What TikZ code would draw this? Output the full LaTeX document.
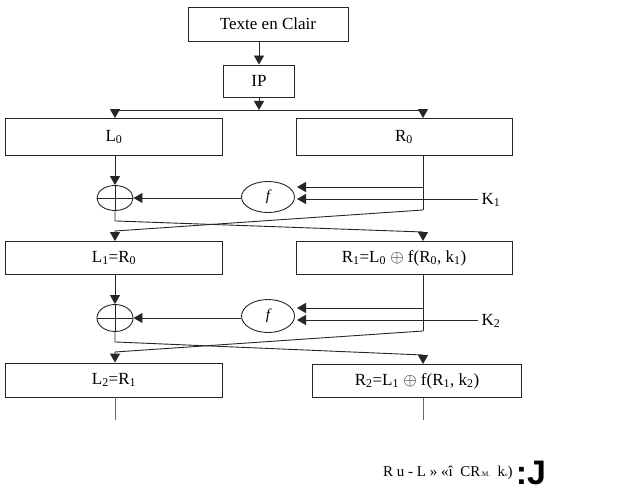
\documentclass[tikz,border=0pt]{standalone}
\usepackage{fontspec}
\setmainfont{Liberation Serif}
\newfontfamily\tagfont{Liberation Sans}
\usetikzlibrary{positioning, arrows.meta, calc, shapes.geometric}

\begin{document}
\begin{tikzpicture}[
  x=1pt, y=-1pt,
  box/.style={draw=black!85, line width=0.9pt, inner sep=0pt, minimum height=34pt, font=\fontsize{17}{19}\selectfont},
  xorop/.style={draw=black!85, line width=0.9pt, ellipse, inner sep=0pt, minimum width=36pt, minimum height=25pt},
  fnop/.style={draw=black!85, line width=0.9pt, ellipse, inner sep=0pt, minimum width=53pt, minimum height=31pt, font=\fontsize{15}{17}\selectfont\itshape},
  wire/.style={line width=0.9pt, draw=black!85},
  arr/.style={wire, -{Triangle[length=9pt, width=10pt]}}
]
  \useasboundingbox (0,0) rectangle (636,500);

  \node[box, minimum width=160pt] (clair) at (268,24) {Texte en Clair};
  \node[box, minimum width=71pt, minimum height=32pt] (ip) at (259,81) {IP};
  \node[box, minimum width=217pt, minimum height=37pt] (l0) at (114,137) {L\textsubscript{0}};
  \node[box, minimum width=216pt, minimum height=37pt] (r0) at (404,137) {R\textsubscript{0}};
  \node[box, minimum width=217pt, minimum height=33pt] (l1) at (114,258) {L\textsubscript{1}=R\textsubscript{0}};
  \node[box, minimum width=216pt, minimum height=33pt] (r1) at (404,258) {R\textsubscript{1}=L\textsubscript{0} $\oplus$ f(R\textsubscript{0}, k\textsubscript{1})};
  \node[box, minimum width=217pt, minimum height=34pt] (l2) at (114,380) {L\textsubscript{2}=R\textsubscript{1}};
  \node[box, minimum width=209pt, minimum height=33pt] (r2) at (417,381) {R\textsubscript{2}=L\textsubscript{1} $\oplus$ f(R\textsubscript{1}, k\textsubscript{2})};

  \node[xorop] (x1) at (115,198) {};
  \node[fnop] (f1) at (268,197) {f};
  \node[font=\fontsize{17}{19}\selectfont] (k1) at (491,200) {K\textsubscript{1}};
  \node[xorop, minimum height=27pt] (x2) at (115,318) {};
  \node[fnop, minimum height=33pt] (f2) at (268,316) {f};
  \node[font=\fontsize{17}{19}\selectfont] (k2) at (491,321) {K\textsubscript{2}};

  \coordinate (split) at (259,110);
  \coordinate (lsplit) at (115,110);
  \coordinate (rsplit) at (423,110);
  \coordinate (rt1) at (423,210);
  \coordinate (f1a) at (297,187);
  \coordinate (f1b) at (297,199);
  \coordinate (c1l) at (115,231);
  \coordinate (c1r) at (423,232);
  \coordinate (rt2) at (423,331);
  \coordinate (f2a) at (297,308);
  \coordinate (f2b) at (297,320);
  \coordinate (c2l) at (115,352);
  \coordinate (c2r) at (423,355);
  \coordinate (lend) at (115,420);
  \coordinate (rend) at (423,420);

  % entree et permutation initiale
  \draw[arr] (clair.south -| ip.north) -- (ip.north);
  \draw[arr] (ip.south) -- (split);
  \draw[wire] (lsplit) -- (rsplit);
  \draw[arr] (lsplit) -- (lsplit |- l0.north);
  \draw[arr] (rsplit) -- (rsplit |- r0.north);

  % tour 1
  \draw[arr] (x1 |- l0.south) -- (x1.north);
  \draw[wire] (x1.north) -- (x1.south) (x1.west) -- (x1.east);
  \draw[wire] (rt1 |- r0.south) -- (rt1);
  \draw[arr] (rt1 |- f1a) -- (f1a);
  \draw[arr] (k1.west |- f1b) -- (f1b);
  \draw[arr] (f1.west |- x1) -- (x1.east);
  \draw[arr] (rt1) -- (c1l) -- (c1l |- l1.north);
  \draw[arr] (x1.south) -- ++(0,10) -- (c1r) -- (c1r |- r1.north);

  % tour 2
  \draw[arr] (x2 |- l1.south) -- (x2.north);
  \draw[wire] (x2.north) -- (x2.south) (x2.west) -- (x2.east);
  \draw[wire] (rt2 |- r1.south) -- (rt2);
  \draw[arr] (rt2 |- f2a) -- (f2a);
  \draw[arr] (k2.west |- f2b) -- (f2b);
  \draw[arr] (f2.west |- x2) -- (x2.east);
  \draw[arr] (rt2) -- (c2l) -- (c2l |- l2.north);
  \draw[arr] (x2.south) -- ++(0,10) -- (c2r) -- (c2r |- r2.north);

  \draw[wire, black!60, line width=0.6pt] (lend |- l2.south) -- (lend);
  \draw[wire, black!60, line width=0.6pt] (rend |- r2.south) -- (rend);

  \node[anchor=west, font=\fontsize{15}{18}\selectfont, inner sep=0pt] (cap) at (383,473) {R u - L »\ «î\ \ CR{\scriptsize .M.}\ \ k{\tiny u})};
  \node[right=3pt of cap, font=\tagfont\bfseries\fontsize{34}{34}\selectfont, inner sep=0pt] (tag) {:J};
\end{tikzpicture}
\end{document}
